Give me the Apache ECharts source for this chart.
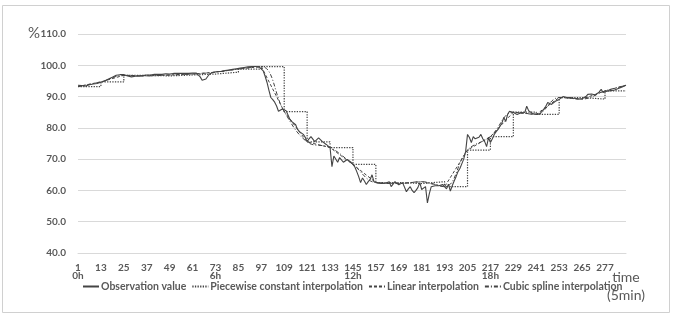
<!DOCTYPE html>
<html>
<head>
<meta charset="utf-8">
<script src="https://cdn.jsdelivr.net/npm/echarts@6/dist/echarts.min.js"></script>
<style>
  html, body { margin: 0; padding: 0; background: #fff; }
  #main { width: 680px; height: 314px; }
</style>
</head>
<body>
<div id="main"></div>
<script>
// x categories: 288 five-minute slots, label every 12
const slotCount = 288;
const categories = Array.from({ length: slotCount }, (_, i) => String(i + 1));
const hourLabels = { '1': '0h', '73': '6h', '145': '12h', '217': '18h' };
const yTicks = [40, 50, 60, 70, 80, 90, 100, 110];

// observation value (%)
const observation = [
  93.6, 93.4, 93.5, 93.3, 93.4, 93.6, 93.8, 93.9, 94.0, 94.1, 94.2, 94.4,
  94.6, 94.9, 95.0, 95.3, 95.6, 96.0, 96.2, 96.5, 96.8, 96.9, 97.0, 97.1,
  97.0, 96.8, 96.6, 96.4, 96.3, 96.4, 96.5, 96.6, 96.5, 96.6, 96.7, 96.8,
  96.9, 96.8, 96.9, 97.0, 97.1, 97.0, 97.1, 97.2, 97.1, 97.2, 97.3, 97.2,
  97.2, 97.3, 97.4, 97.3, 97.4, 97.5, 97.4, 97.3, 97.4, 97.5, 97.4, 97.5,
  97.5, 97.6, 97.5, 97.2, 96.3, 95.2, 94.8, 95.6, 96.5, 97.3, 97.7, 97.8,
  97.9, 98.0, 98.1, 98.0, 98.2, 98.3, 98.4, 98.5, 98.6, 98.7, 98.8, 98.9,
  99.0, 99.1, 99.2, 99.3, 99.4, 99.5, 99.7, 99.6, 99.5, 99.6, 99.5, 99.4,
  99.3, 98.2, 96.5, 94.5, 92.0, 89.7, 89.0, 88.2, 87.0, 85.3, 85.5, 86.0,
  86.2, 85.5, 85.0, 82.7, 82.0, 81.5, 81.0, 79.5, 78.8, 78.3, 77.9, 77.0,
  75.6, 76.5, 77.2, 77.0, 75.6, 76.2, 76.8, 77.0, 75.6, 75.3, 74.7, 74.2,
  73.7, 67.6, 71.0, 71.5, 69.0, 70.5, 70.5, 69.0, 69.0, 69.9, 69.5, 69.0,
  68.3, 67.5, 66.0, 64.4, 62.5, 64.0, 63.0, 61.9, 62.8, 63.5, 65.0, 62.8,
  62.5, 62.4, 62.3, 62.2, 62.1, 62.3, 62.0, 62.8, 61.2, 62.0, 62.8, 62.2,
  61.8, 62.3, 62.5, 61.9, 59.6, 60.5, 61.2, 60.0, 59.3, 60.0, 60.9, 62.5,
  60.3, 60.8, 61.2, 56.0, 59.0, 61.2, 60.9, 61.5, 61.9, 61.5, 60.9, 61.9,
  61.5, 60.5, 62.0, 59.8, 61.5, 63.0, 64.4, 66.0, 67.0, 68.5, 70.0, 72.4,
  77.9, 76.9, 75.3, 77.2, 76.5, 76.3, 77.0, 77.9, 76.5, 75.6, 74.0, 76.9,
  75.3, 76.5, 77.9, 78.8, 79.5, 80.5, 81.5, 83.3, 82.0, 84.3, 85.3, 85.0,
  84.9, 84.6, 84.3, 84.6, 84.8, 84.9, 84.9, 86.9, 85.5, 84.9, 84.6, 84.4,
  84.3, 84.3, 84.5, 85.3, 86.0, 86.9, 88.1, 87.8, 87.5, 88.0, 88.5, 88.8,
  89.1, 89.5, 90.0, 89.7, 89.7, 89.6, 89.7, 89.5, 89.4, 89.3, 89.2, 89.1,
  89.3, 89.4, 90.0, 90.7, 91.3, 90.8, 90.4, 90.5, 90.7, 91.5, 92.3, 91.3,
  91.5, 91.7, 91.8, 91.9, 92.0, 92.1, 92.3, 92.6, 92.8, 93.1, 93.3, 93.6
];

// hourly samples (every 12 slots) used by the interpolations, plus the last slot
const sampleSlots = [0, 12, 24, 36, 48, 60, 72, 84, 96, 108, 120, 132,
  144, 156, 168, 180, 192, 204, 216, 228, 240, 252, 264, 276, 287];
const sampleValues = [93.2, 94.7, 96.8, 96.6, 96.9, 97.2, 97.8, 98.8, 99.6, 85.2, 75.5, 73.7,
  68.3, 62.5, 62.2, 62.8, 61.2, 72.9, 77.2, 85.0, 84.3, 89.7, 89.2, 91.8, 93.6];

const seriesNames = ['Observation value', 'Piecewise constant interpolation',
  'Linear interpolation', 'Cubic spline interpolation'];

const ink = '#595959';
const lineInk = '#444444';
const fontFam = "Lato, Roboto, sans-serif";

const samplePairs = sampleSlots.map((s, i) => [s, sampleValues[i]]);
// step series holds each hourly level; last level is held to the end
const stepPairs = samplePairs.slice(0, -1);
stepPairs.push([sampleSlots[sampleSlots.length - 1], sampleValues[sampleValues.length - 2]]);

const chart = echarts.init(document.getElementById('main'));

const option = {
  animation: false,
  backgroundColor: '#fff',
  graphic: [
    {
      type: 'rect',
      shape: { x: 2.5, y: 5.5, width: 667, height: 307 },
      style: { fill: 'none', stroke: '#d0d0d0', lineWidth: 1 }
    },
    {
      type: 'text',
      left: 28,
      top: 26,
      style: { text: '%', fill: ink, font: '15px ' + fontFam }
    },
    {
      type: 'text',
      x: 626,
      y: 268,
      style: {
        text: 'time\n(5min)', fill: ink, font: '14px ' + fontFam,
        lineHeight: 18, align: 'center', verticalAlign: 'top'
      }
    }
  ],
  grid: { left: 78, right: 54, top: 34, bottom: 61 },
  legend: {
    data: seriesNames,
    left: 77,
    top: 276,
    width: 600,
    itemWidth: 16,
    itemHeight: 10,
    itemGap: 5,
    itemStyle: { opacity: 0 },
    textStyle: { color: ink, fontSize: 10.5, fontWeight: 'bold', fontFamily: fontFam, padding: [0, 0, 0, -3] }
  },
  xAxis: {
    type: 'category',
    data: categories,
    boundaryGap: false,
    axisLine: { lineStyle: { color: '#d9d9d9' } },
    axisTick: { show: false },
    axisLabel: {
      interval: 11,
      margin: 11,
      color: ink,
      fontSize: 10,
      fontWeight: 'bold',
      fontFamily: fontFam,
      lineHeight: 8,
      formatter: v => hourLabels[v] ? v + '\n' + hourLabels[v] : v
    },
    splitLine: { show: false }
  },
  yAxis: {
    type: 'value',
    min: yTicks[0],
    max: yTicks[yTicks.length - 1],
    interval: 10,
    axisLine: { show: false },
    axisTick: { show: false },
    axisLabel: {
      margin: 12,
      color: ink,
      fontSize: 10,
      fontWeight: 'bold',
      fontFamily: fontFam,
      formatter: v => v.toFixed(1)
    },
    splitLine: { lineStyle: { color: '#d9d9d9' } }
  },
  series: [
    {
      name: seriesNames[0],
      type: 'line',
      data: observation,
      showSymbol: false,
      symbol: 'none',
      lineStyle: { color: lineInk, width: 1.1 },
      itemStyle: { color: lineInk },
      z: 5
    },
    {
      name: seriesNames[1],
      type: 'line',
      data: stepPairs,
      step: 'end',
      symbol: 'none',
      lineStyle: { color: lineInk, width: 1.2, type: [1.3, 1.3] },
      itemStyle: { color: lineInk }
    },
    {
      name: seriesNames[2],
      type: 'line',
      data: samplePairs,
      symbol: 'none',
      lineStyle: { color: lineInk, width: 1, type: [3, 2] },
      itemStyle: { color: lineInk }
    },
    {
      name: seriesNames[3],
      type: 'line',
      data: samplePairs,
      smooth: 0.4,
      symbol: 'none',
      lineStyle: { color: lineInk, width: 1, type: [4, 2, 1, 2] },
      itemStyle: { color: lineInk }
    }
  ]
};

chart.setOption(option);
</script>
</body>
</html>
